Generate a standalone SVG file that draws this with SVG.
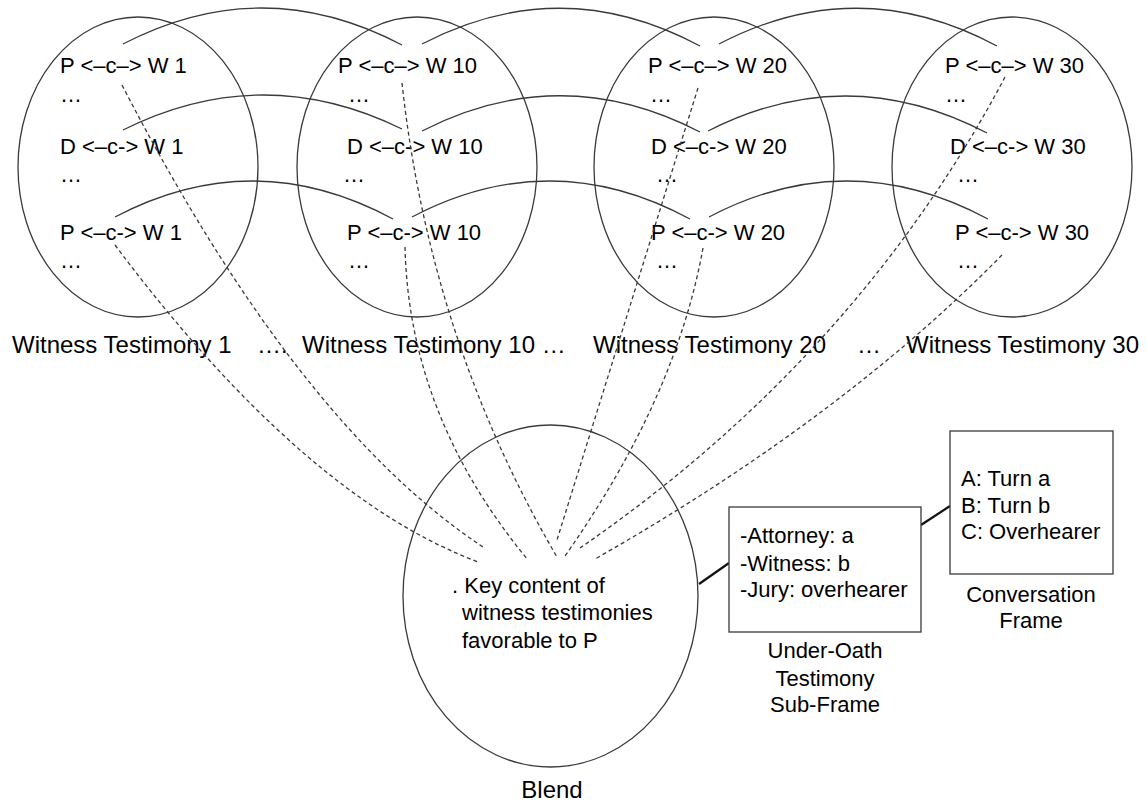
<svg xmlns="http://www.w3.org/2000/svg" width="1146" height="805" viewBox="0 0 1146 805">
<style>
.el{fill:none;stroke:#3a3a3a;stroke-width:1.3}
.arc{fill:none;stroke:#3a3a3a;stroke-width:1.3}
.dash{fill:none;stroke:#3a3a3a;stroke-width:1.3;stroke-dasharray:4 3}
.solid{fill:none;stroke:#111;stroke-width:2.2}
.box{fill:#fff;stroke:#3a3a3a;stroke-width:1.3}
text{font-family:"Liberation Sans",Arial,sans-serif;fill:#000}
.t{font-size:22px}
.lbl{font-size:24px}
.c{text-anchor:middle}
</style>
<rect width="1146" height="805" fill="#fff"/>
<g id="wt1">
<ellipse class="el" cx="138" cy="167" rx="120" ry="150"/>
<text class="t" x="60" y="73">P &lt;–c–&gt; W 1</text>
<text class="t" x="60" y="102">…</text>
<text class="t" x="60" y="154">D &lt;–c-&gt; W 1</text>
<text class="t" x="60" y="182">…</text>
<text class="t" x="60" y="240">P &lt;–c-&gt; W 1</text>
<text class="t" x="60" y="268">…</text>
</g>
<g id="wt10">
<ellipse class="el" cx="417" cy="167" rx="120" ry="150"/>
<text class="t" x="338" y="73">P &lt;–c–&gt; W 10</text>
<text class="t" x="348" y="102">…</text>
<text class="t" x="347" y="154">D &lt;–c-&gt; W 10</text>
<text class="t" x="343" y="182">…</text>
<text class="t" x="347" y="240">P &lt;–c-&gt; W 10</text>
<text class="t" x="348" y="268">…</text>
</g>
<g id="wt20">
<ellipse class="el" cx="714" cy="167" rx="120" ry="150"/>
<text class="t" x="648" y="73">P &lt;–c–&gt; W 20</text>
<text class="t" x="650" y="102">…</text>
<text class="t" x="651" y="154">D &lt;–c-&gt; W 20</text>
<text class="t" x="656" y="182">…</text>
<text class="t" x="651" y="240">P &lt;–c-&gt; W 20</text>
<text class="t" x="656" y="268">…</text>
</g>
<g id="wt30">
<ellipse class="el" cx="1012" cy="167" rx="120" ry="150"/>
<text class="t" x="945" y="73">P &lt;–c–&gt; W 30</text>
<text class="t" x="945" y="102">…</text>
<text class="t" x="950" y="154">D &lt;–c-&gt; W 30</text>
<text class="t" x="957" y="182">…</text>
<text class="t" x="955" y="240">P &lt;–c-&gt; W 30</text>
<text class="t" x="957" y="268">…</text>
</g>
<g id="labels">
<text class="lbl" x="12" y="353">Witness Testimony 1</text>
<text class="lbl" x="257" y="353">….</text>
<text class="lbl" x="302" y="353">Witness Testimony 10 …</text>
<text class="lbl" x="593" y="353">Witness Testimony 20</text>
<text class="lbl" x="857" y="353">…</text>
<text class="lbl" x="906" y="353">Witness Testimony 30</text>
</g>
<g id="blend">
<ellipse class="el" cx="550.5" cy="596" rx="147.5" ry="171"/>
<text class="t" x="452" y="593">. Key content of</text>
<text class="t" x="462" y="620">witness testimonies</text>
<text class="t" x="462" y="648">favorable to P</text>
<text class="lbl c" x="552" y="798">Blend</text>
</g>
<g id="connectors">
<path class="arc" d="M123,44 Q262,-28.5 402,45"/>
<path class="arc" d="M422,44 Q561,-28.5 700,46"/>
<path class="arc" d="M719,44 Q858,-28.5 997,46"/>
<path class="arc" d="M123,130 Q262,60.5 402,129"/>
<path class="arc" d="M422,131 Q561,60 700,132"/>
<path class="arc" d="M708,131 Q847,60 987,133"/>
<path class="arc" d="M115,217 Q254,144 393,219"/>
<path class="arc" d="M412,217 Q551,144 690,219"/>
<path class="arc" d="M709,217 Q848,144 988,219"/>
<path class="dash" d="M122,85 Q297,424 483,547"/>
<path class="dash" d="M115,245 Q303,496 478,562"/>
<path class="dash" d="M402,83 Q430,340 557,557"/>
<path class="dash" d="M405,247 Q409,416 528,560"/>
<path class="dash" d="M698,88 L557,540"/>
<path class="dash" d="M703,248 Q676,398 565,556"/>
<path class="dash" d="M1005,77 Q857,357 580,548"/>
<path class="dash" d="M1002,255 Q841,419 595,559"/>
<path class="solid" d="M699,584 L729,563"/>
<path class="solid" d="M921,525 L950,506"/>
</g>
<g id="underoath">
<rect class="box" x="729" y="507" width="192" height="125"/>
<text class="t" x="740" y="543">-Attorney: a</text>
<text class="t" x="740" y="571">-Witness: b</text>
<text class="t" x="740" y="597">-Jury: overhearer</text>
<text class="t c" x="825" y="658">Under-Oath</text>
<text class="t c" x="825" y="686">Testimony</text>
<text class="t c" x="825" y="712">Sub-Frame</text>
</g>
<g id="conversation">
<rect class="box" x="950" y="431" width="163" height="143"/>
<text class="t" x="961" y="486">A: Turn a</text>
<text class="t" x="961" y="513">B: Turn b</text>
<text class="t" x="961" y="539">C: Overhearer</text>
<text class="t c" x="1031" y="602">Conversation</text>
<text class="t c" x="1031" y="628">Frame</text>
</g>
</svg>
